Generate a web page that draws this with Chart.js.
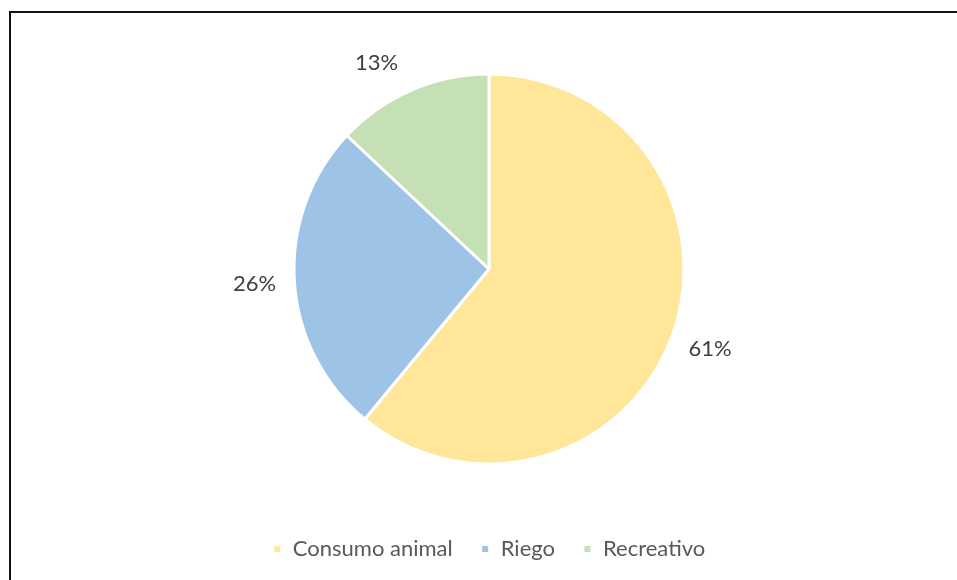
<!DOCTYPE html>
<html>
<head>
<meta charset="utf-8">
<script src="https://cdn.jsdelivr.net/npm/chart.js@4.4.1/dist/chart.umd.min.js"></script>
<style>
  html, body { margin: 0; padding: 0; background: #fff; }
  #wrap { position: relative; width: 957px; height: 580px; overflow: hidden; }
  #frame { position: absolute; left: 9px; top: 11px; width: 1000px; height: 600px;
           border-left: 2px solid #111; border-top: 2px solid #111; }
  canvas { position: absolute; left: 0; top: 0; }
</style>
</head>
<body>
<div id="wrap">
  <div id="frame"></div>
  <canvas id="pie" width="957" height="580"></canvas>
</div>
<script>
// Datos del gráfico
const categorias = ['Consumo animal', 'Riego', 'Recreativo'];
const porcentajes = [61, 26, 13];
const colores = ['#FFE699', '#9DC3E6', '#C5E0B4'];

const fuente = "Lato, 'Open Sans', sans-serif";

// etiquetas de porcentaje fuera de cada porción
const etiquetasFuera = {
  id: 'etiquetasFuera',
  afterDatasetsDraw(chart) {
    const ctx = chart.ctx;
    const meta = chart.getDatasetMeta(0);
    ctx.save();
    ctx.font = '22px ' + fuente;
    ctx.fillStyle = '#404040';
    ctx.textAlign = 'center';
    ctx.textBaseline = 'middle';
    meta.data.forEach((arc, i) => {
      // Excel "mejor ajuste": la etiqueta pequeña queda un poco girada hacia fuera
      const mid = (arc.startAngle + arc.endAngle) / 2 - (porcentajes[i] < 20 ? 0.09 : 0);
      const r = arc.outerRadius + 40;
      const x = arc.x + Math.cos(mid) * r;
      const y = arc.y + Math.sin(mid) * r;
      ctx.fillText(porcentajes[i] + '%', x, y);
    });
    ctx.restore();
  }
};

new Chart(document.getElementById('pie'), {
  type: 'pie',
  data: {
    labels: categorias,
    datasets: [{
      data: porcentajes,
      backgroundColor: colores,
      borderColor: '#ffffff',
      borderWidth: 3
    }]
  },
  options: {
    responsive: false,
    animation: false,
    radius: 195,
    layout: { padding: { top: 28, bottom: 10, left: 21, right: 0 } },
    plugins: {
      tooltip: { enabled: false },
      legend: {
        position: 'bottom',
        labels: {
          boxWidth: 9,
          boxHeight: 9,
          padding: 28,
          color: '#595959',
          font: { family: fuente, size: 22 }
        }
      }
    }
  },
  plugins: [etiquetasFuera]
});
</script>
</body>
</html>
